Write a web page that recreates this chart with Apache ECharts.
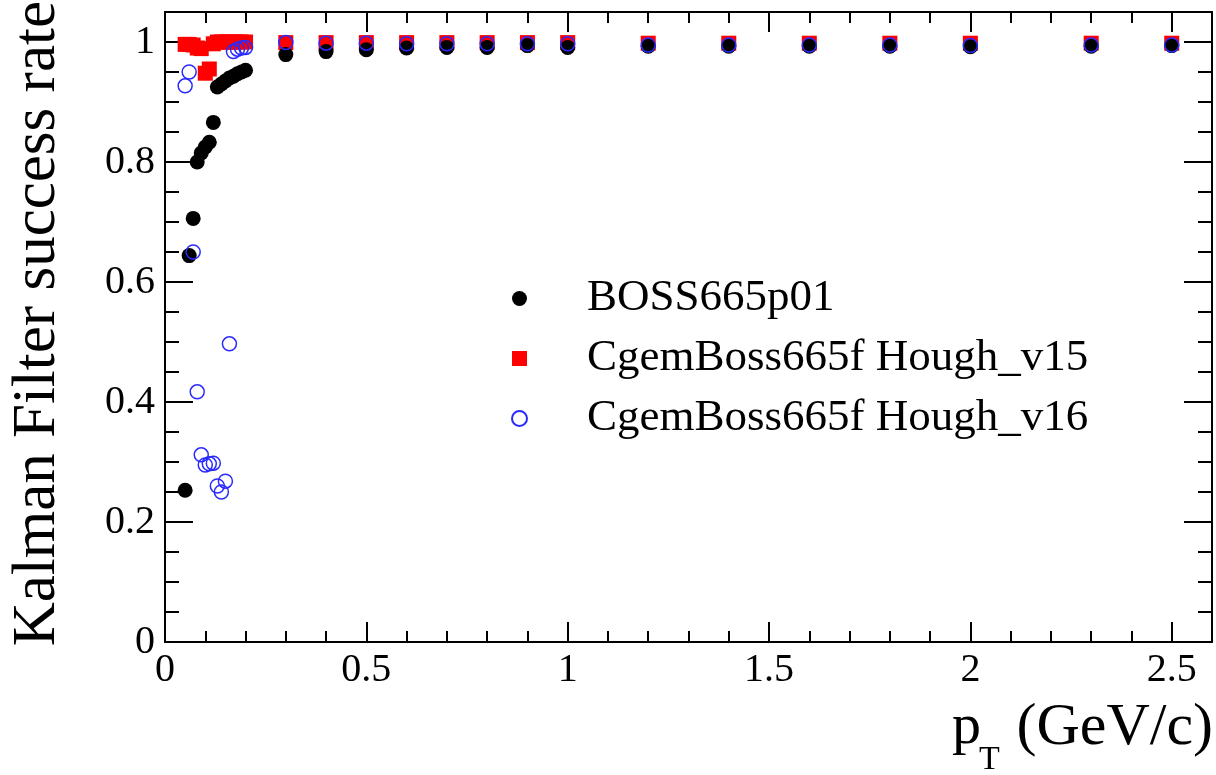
<!DOCTYPE html>
<html>
<head>
<meta charset="utf-8">
<script src="https://cdn.jsdelivr.net/npm/echarts@6/dist/echarts.min.js"></script>
<style>
    html, body { margin: 0; padding: 0; background: #fff; }
    #chart { width: 1216px; height: 775px; }
</style>
</head>
<body>
<div id="chart"></div>
<script>
// pT bins (GeV/c)
const pT = [
    0.05, 0.06, 0.07, 0.08, 0.09, 0.10, 0.11, 0.12, 0.13, 0.14, 0.15, 0.16,
    0.17, 0.18, 0.19, 0.20, 0.3, 0.4, 0.5, 0.6, 0.7, 0.8, 0.9, 1.0, 1.2, 1.4,
    1.6, 1.8, 2.0, 2.3, 2.5,
]
const boss665p01 = [
    0.253, 0.644, 0.706, 0.8, 0.815, 0.825, 0.833, 0.866, 0.925, 0.93, 0.935,
    0.94, 0.943, 0.947, 0.95, 0.953, 0.979, 0.984, 0.987, 0.99, 0.991, 0.991,
    0.994, 0.991, 0.993, 0.993, 0.993, 0.993, 0.992, 0.993, 0.994,
]
const houghV15 = [
    0.996, 0.996, 0.995, 0.99, 0.989, 0.948, 0.955, 0.997, 1.0, 1.0, 1.0, 1.0,
    1.0, 1.0, 1.0, 1.0, 0.999, 0.999, 0.999, 0.999, 0.999, 0.999, 0.999, 0.999,
    0.998, 0.998, 0.998, 0.998, 0.998, 0.998, 0.998,
]
const houghV16 = [
    0.927, 0.95, 0.65, 0.417, 0.312, 0.295, 0.297, 0.298, 0.26, 0.25, 0.268,
    0.497, 0.984, 0.988, 0.99, 0.991, 0.999, 0.998, 0.998, 0.997, 0.997, 0.997,
    0.997, 0.997, 0.995, 0.995, 0.995, 0.995, 0.994, 0.995, 0.995,
]
const seriesNames = [
    "BOSS665p01",
    "CgemBoss665f Hough_v15",
    "CgemBoss665f Hough_v16",
]

const FONT = "Liberation Serif"
const pairs = (ys) => pT.map((x, i) => [x, ys[i]])

// hide labels that are not on a major tick (ends of the range)
const majorOnly = (step) => (v) =>
    Math.abs(v / step - Math.round(v / step)) < 1e-6 ? String(+v.toFixed(2)) : ""

const axisLine = { show: true, onZero: false, lineStyle: { color: "#000", width: 2 } }
const noLine = { show: false, onZero: false }
const tickStyle = { color: "#000", width: 2 }
const gridBox = { left: 165, right: 4, top: 12, bottom: 133 }

const xAxisBase = { type: "value", min: 0, max: 2.6, splitLine: { show: false } }
const yAxisBase = { type: "value", min: 0, max: 1.05, splitLine: { show: false } }

// grid 0: frame, major ticks, labels and data; grid 1: minor ticks only
const option = {
    animation: false,
    backgroundColor: "#fff",
    textStyle: { fontFamily: FONT },
    grid: [{ ...gridBox }, { ...gridBox }],
    xAxis: [
        {
            ...xAxisBase,
            gridIndex: 0,
            position: "bottom",
            interval: 0.5,
            axisLine,
            axisTick: { inside: true, length: 20, lineStyle: tickStyle },
            axisLabel: {
                color: "#000",
                fontFamily: FONT,
                fontSize: 40,
                margin: 8,
                formatter: majorOnly(0.5),
            },
        },
        {
            ...xAxisBase,
            gridIndex: 0,
            position: "top",
            interval: 0.5,
            axisLine,
            axisTick: { inside: true, length: 20, lineStyle: tickStyle },
            axisLabel: { show: false },
        },
        {
            ...xAxisBase,
            gridIndex: 1,
            position: "bottom",
            interval: 0.1,
            axisLine: noLine,
            axisTick: { inside: true, length: 11, lineStyle: tickStyle },
            axisLabel: { show: false },
        },
        {
            ...xAxisBase,
            gridIndex: 1,
            position: "top",
            interval: 0.1,
            axisLine: noLine,
            axisTick: { inside: true, length: 11, lineStyle: tickStyle },
            axisLabel: { show: false },
        },
    ],
    yAxis: [
        {
            ...yAxisBase,
            gridIndex: 0,
            position: "left",
            interval: 0.2,
            axisLine,
            axisTick: { inside: true, length: 28, lineStyle: tickStyle },
            axisLabel: {
                color: "#000",
                fontFamily: FONT,
                fontSize: 40,
                margin: 10,
                formatter: majorOnly(0.2),
            },
        },
        {
            ...yAxisBase,
            gridIndex: 0,
            position: "right",
            interval: 0.2,
            axisLine,
            axisTick: { inside: true, length: 28, lineStyle: tickStyle },
            axisLabel: { show: false },
        },
        {
            ...yAxisBase,
            gridIndex: 1,
            position: "left",
            interval: 0.05,
            axisLine: noLine,
            axisTick: { inside: true, length: 14, lineStyle: tickStyle },
            axisLabel: { show: false },
        },
        {
            ...yAxisBase,
            gridIndex: 1,
            position: "right",
            interval: 0.05,
            axisLine: noLine,
            axisTick: { inside: true, length: 14, lineStyle: tickStyle },
            axisLabel: { show: false },
        },
    ],
    legend: {
        orient: "vertical",
        left: 506,
        top: 271,
        itemWidth: 15,
        itemHeight: 15,
        itemGap: 15,
        data: seriesNames,
        textStyle: {
            color: "#000",
            fontFamily: FONT,
            fontSize: 45,
            lineHeight: 45,
            padding: [0, 0, 0, 55],
        },
    },
    series: [
        {
            name: seriesNames[0],
            type: "scatter",
            xAxisIndex: 0,
            yAxisIndex: 0,
            z: 3,
            symbol: "circle",
            symbolSize: 15,
            itemStyle: { color: "#000", opacity: 1 },
            data: pairs(boss665p01),
        },
        {
            name: seriesNames[1],
            type: "scatter",
            xAxisIndex: 0,
            yAxisIndex: 0,
            z: 2,
            symbol: "rect",
            symbolSize: 15,
            itemStyle: { color: "#ff0000", opacity: 1 },
            data: pairs(houghV15),
        },
        {
            name: seriesNames[2],
            type: "scatter",
            xAxisIndex: 0,
            yAxisIndex: 0,
            z: 4,
            symbol: "circle",
            symbolSize: 14,
            itemStyle: {
                color: "rgba(0,0,0,0)",
                borderColor: "#2a2aff",
                borderWidth: 1.5,
                opacity: 1,
            },
            data: pairs(houghV16),
        },
    ],
    graphic: [
        {
            type: "text",
            x: 38,
            y: 1,
            rotation: Math.PI / 2,
            style: {
                text: "Kalman Filter success rate",
                fontFamily: FONT,
                fontSize: 61,
                fill: "#000",
                align: "right",
                verticalAlign: "middle",
            },
        },
        {
            type: "text",
            x: 952,
            y: 728,
            style: {
                text: "p",
                fontFamily: FONT,
                fontSize: 58,
                fill: "#000",
                align: "left",
                verticalAlign: "middle",
            },
        },
        {
            type: "text",
            x: 979,
            y: 760,
            style: {
                text: "T",
                fontFamily: FONT,
                fontSize: 34,
                fill: "#000",
                align: "left",
                verticalAlign: "middle",
            },
        },
        {
            type: "text",
            x: 1213,
            y: 728,
            style: {
                text: "(GeV/c)",
                fontFamily: FONT,
                fontSize: 60,
                fill: "#000",
                align: "right",
                verticalAlign: "middle",
            },
        },
    ],
}

const chart = echarts.init(document.getElementById("chart"))
chart.setOption(option)
window.addEventListener("resize", () => chart.resize())
</script>
</body>
</html>
